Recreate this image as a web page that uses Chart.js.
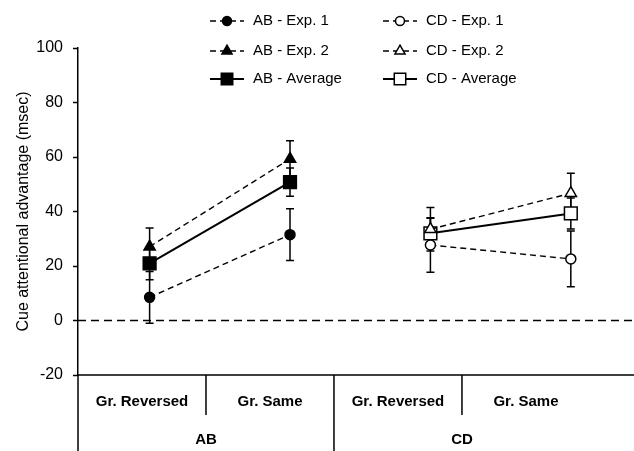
<!DOCTYPE html>
<html lang="en">
<head>
<meta charset="UTF-8">
<title>Cue attentional advantage</title>
<script src="https://cdn.jsdelivr.net/npm/chart.js"></script>
<style>
  html, body { margin: 0; padding: 0; background: #fff; }
  #wrap { width: 634px; height: 451px; }
</style>
</head>
<body>
<div id="wrap"><canvas id="myChart" width="634" height="451"></canvas></div>
<script>
// categories under the plot
const conditions = ['Gr. Reversed', 'Gr. Same', 'Gr. Reversed', 'Gr. Same'];
const groups = ['AB', 'CD'];
const abX = [1, 2];
const cdX = [3, 4];
const xMin = 0.49;
const xMax = 4.45;

// means and error bars (msec)
const abExp1 = [8.5, 31.5];
const abExp1Err = [9.5, 9.5];
const abExp2 = [27.1, 59.3];
const abExp2Err = [6.8, 6.7];
const abAvg = [21.0, 50.8];
const abAvgErr = [6.0, 5.2];
const cdExp1 = [27.7, 22.6];
const cdExp1Err = [10.0, 10.2];
const cdExp2 = [33.5, 46.7];
const cdExp2Err = [8.0, 7.3];
const cdAvg = [32.0, 39.3];
const cdAvgErr = [5.5, 5.7];
const zeroLine = 0;

function pts(xs, ys) {
    return xs.map((x, i) => ({ x: x, y: ys[i] }));
}

function series(label, xs, ys, errs, style, filled, dashed) {
    const r = style === 'rect' ? 9 : (style === 'triangle' ? 6.5 : 5);
    return {
        label: label,
        data: pts(xs, ys),
        errors: errs,
        borderColor: '#000',
        borderWidth: dashed ? 1.4 : 2,
        borderDash: dashed ? [6, 4] : [],
        pointStyle: style,
        pointRadius: r,
        pointHoverRadius: r,
        pointBackgroundColor: filled ? '#000' : '#fff',
        pointBorderColor: '#000',
        pointBorderWidth: 1.5,
        fill: false,
        inLegend: true
    };
}

const datasets = [
    series('AB - Exp. 1', abX, abExp1, abExp1Err, 'circle', true, true),
    series('AB - Exp. 2', abX, abExp2, abExp2Err, 'triangle', true, true),
    series('AB - Average', abX, abAvg, abAvgErr, 'rect', true, false),
    series('CD - Exp. 1', cdX, cdExp1, cdExp1Err, 'circle', false, true),
    series('CD - Exp. 2', cdX, cdExp2, cdExp2Err, 'triangle', false, true),
    series('CD - Average', cdX, cdAvg, cdAvgErr, 'rect', false, false),
    {
        label: 'zero',
        data: [{ x: xMin, y: zeroLine }, { x: xMax, y: zeroLine }],
        borderColor: '#000',
        borderWidth: 1.5,
        borderDash: [8, 5],
        pointRadius: 0,
        pointHoverRadius: 0,
        fill: false
    }
];

// error bars drawn behind the markers
const errorBars = {
    id: 'errorBars',
    beforeDatasetsDraw(chart) {
        const { ctx, scales: { x, y } } = chart;
        ctx.save();
        ctx.strokeStyle = '#000';
        ctx.lineWidth = 1.5;
        ctx.setLineDash([]);
        chart.data.datasets.forEach(ds => {
            if (!ds.errors) return;
            ds.data.forEach((p, i) => {
                const px = x.getPixelForValue(p.x);
                const top = y.getPixelForValue(p.y + ds.errors[i]);
                const bot = y.getPixelForValue(p.y - ds.errors[i]);
                ctx.beginPath();
                ctx.moveTo(px, top); ctx.lineTo(px, bot);
                ctx.moveTo(px - 4, top); ctx.lineTo(px + 4, top);
                ctx.moveTo(px - 4, bot); ctx.lineTo(px + 4, bot);
                ctx.stroke();
            });
        });
        ctx.restore();
    }
};

// legend with line sample + marker, two columns
const lineLegend = {
    id: 'lineLegend',
    afterDraw(chart) {
        const ctx = chart.ctx;
        const cols = [210, 383];
        const rows = [21, 51, 79];
        const sampleW = 34;
        ctx.save();
        ctx.font = '15px "Liberation Sans", Arial, sans-serif';
        ctx.textBaseline = 'middle';
        ctx.fillStyle = '#000';
        const items = chart.data.datasets.filter(d => d.inLegend);
        items.forEach((ds, i) => {
            const x0 = cols[Math.floor(i / 3)];
            const yy = rows[i % 3];
            ctx.strokeStyle = '#000';
            ctx.lineWidth = ds.borderWidth;
            ctx.setLineDash(ds.borderDash);
            ctx.beginPath();
            ctx.moveTo(x0, yy);
            ctx.lineTo(x0 + sampleW, yy);
            ctx.stroke();
            ctx.setLineDash([]);
            ctx.fillStyle = ds.pointBackgroundColor;
            ctx.lineWidth = ds.pointBorderWidth;
            Chart.helpers.drawPoint(ctx, {
                pointStyle: ds.pointStyle,
                radius: ds.pointRadius * 0.9,
                rotation: 0,
                borderWidth: ds.pointBorderWidth
            }, x0 + sampleW / 2, yy);
            ctx.fillStyle = '#000';
            ctx.fillText(ds.label, x0 + sampleW + 9, yy);
        });
        ctx.restore();
    }
};

// category table below the plot
const categoryTable = {
    id: 'categoryTable',
    afterDraw(chart) {
        const { ctx, chartArea: a, height } = chart;
        const colW = a.width * 0.2302;
        ctx.save();
        ctx.strokeStyle = '#000';
        ctx.lineWidth = 1.5;
        ctx.beginPath();
        ctx.moveTo(a.left, a.bottom); ctx.lineTo(chart.width, a.bottom);
        ctx.moveTo(a.left, a.bottom); ctx.lineTo(a.left, height);
        for (let i = 1; i < conditions.length; i++) {
            const xx = a.left + colW * i;
            ctx.moveTo(xx, a.bottom);
            ctx.lineTo(xx, i % 2 === 0 ? height : a.bottom + 40);
        }
        ctx.stroke();
        ctx.fillStyle = '#000';
        ctx.textAlign = 'center';
        ctx.textBaseline = 'middle';
        ctx.font = 'bold 15px "Liberation Sans", Arial, sans-serif';
        conditions.forEach((c, i) => {
            ctx.fillText(c, a.left + colW * (i + 0.5), a.bottom + 27);
        });
        groups.forEach((g, i) => {
            ctx.fillText(g, a.left + colW * (2 * i + 1), a.bottom + 65);
        });
        ctx.restore();
    }
};

Chart.defaults.font.family = '"Liberation Sans", Arial, sans-serif';
Chart.defaults.color = '#000';

const ctx = document.getElementById('myChart').getContext('2d');
const myChart = new Chart(ctx, {
    type: 'line',
    data: { datasets: datasets },
    options: {
        responsive: false,
        animation: false,
        layout: { autoPadding: false, padding: { top: 48, bottom: 76, left: 0, right: 0 } },
        plugins: {
            legend: { display: false },
            tooltip: { enabled: false }
        },
        scales: {
            x: {
                type: 'linear',
                min: xMin,
                max: xMax,
                display: false
            },
            y: {
                min: -20,
                max: 100,
                ticks: { stepSize: 20, padding: 10, font: { size: 16 }, color: '#000' },
                grid: { drawOnChartArea: false, drawTicks: true, tickLength: 5, tickColor: '#000', tickWidth: 1.5 },
                border: { color: '#000', width: 1.5 },
                title: {
                    display: true,
                    text: 'Cue attentional advantage (msec)',
                    font: { size: 16 },
                    color: '#000',
                    padding: { top: 14, bottom: 0 }
                },
                afterFit(scale) { scale.width = 78; }
            }
        }
    },
    plugins: [errorBars, lineLegend, categoryTable]
});
</script>
</body>
</html>
